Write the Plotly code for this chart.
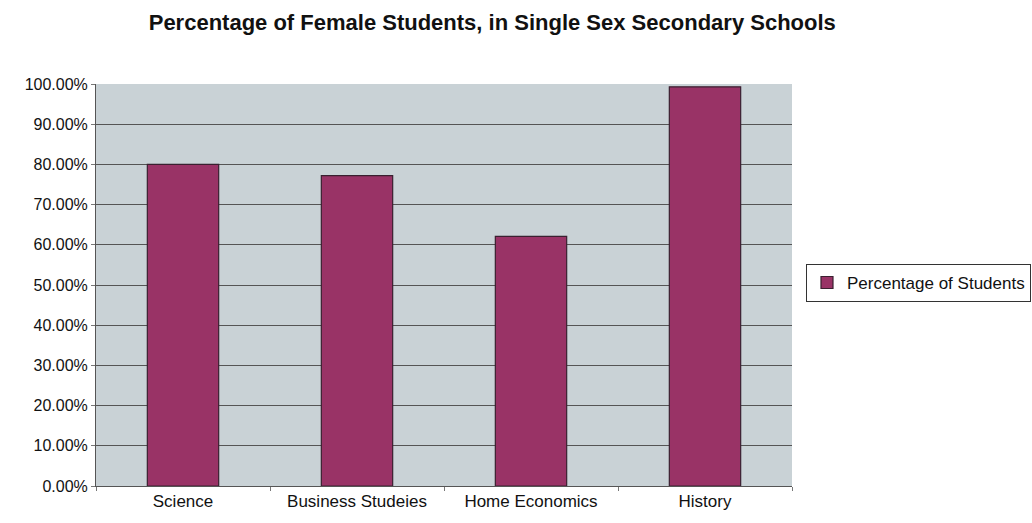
import plotly.graph_objects as go

# Subjects and share of female students in single sex secondary schools
subjects = ["Science", "Business Studeies", "Home Economics", "History"]
female_share = [0.80, 0.772, 0.621, 0.993]
y_ticks = [i / 10 for i in range(11)]

fig = go.Figure(
    go.Bar(
        x=subjects,
        y=female_share,
        name="Percentage of Students",
        marker=dict(color="#993366", line=dict(color="#3a2030", width=1.2)),
        showlegend=True,
    )
)

fig.update_layout(
    width=1032,
    height=523,
    margin=dict(l=96, r=240, t=84, b=35),
    paper_bgcolor="white",
    plot_bgcolor="#C9D2D6",
    bargap=0.59,
    font=dict(family="Liberation Sans, Arial", size=16, color="#111111"),
    title=dict(
        text="<b>Percentage of Female Students, in Single Sex Secondary Schools</b>",
        x=0.477,
        xanchor="center",
        y=0.958,
        yanchor="middle",
        font=dict(size=22, color="#111111"),
    ),
    legend=dict(
        xref="container",
        yref="container",
        x=0.781,
        xanchor="left",
        y=0.459,
        yanchor="middle",
        bordercolor="#333333",
        borderwidth=1,
        bgcolor="white",
        font=dict(size=17),
        itemwidth=30,
    ),
)

fig.update_xaxes(
    showline=True,
    linecolor="#555555",
    linewidth=1,
    ticks="outside",
    ticklen=4,
    tickcolor="#777777",
    tickson="boundaries",
    showgrid=False,
    tickfont=dict(size=17),
)
fig.update_yaxes(
    range=[0, 1.0],
    tickvals=y_ticks,
    tickformat=".2%",
    showline=True,
    linecolor="#555555",
    linewidth=1,
    ticks="outside",
    ticklen=4,
    tickcolor="#777777",
    showgrid=True,
    gridcolor="#555555",
    gridwidth=1,
    zeroline=False,
    tickfont=dict(size=16),
)

fig.write_html("out.html")
